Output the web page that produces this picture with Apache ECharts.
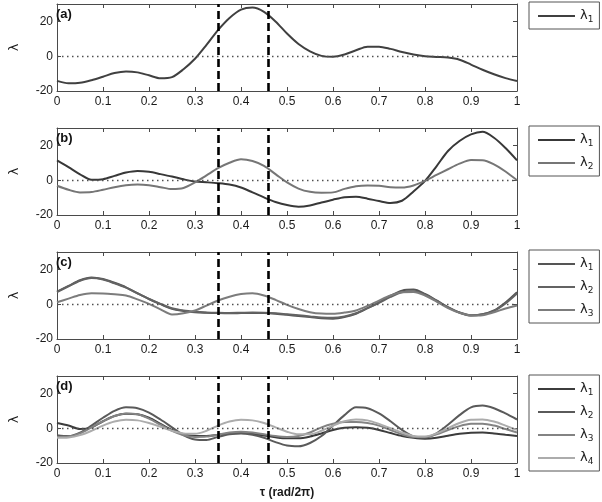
<!DOCTYPE html>
<html><head><meta charset="utf-8">
<script src="https://cdn.jsdelivr.net/npm/echarts@6/dist/echarts.min.js"></script>
<style>html,body{margin:0;padding:0;background:#fff}#c{width:602px;height:502px}</style>
</head><body><div id="c"></div>
<script>
// x positions (tau, rad/2pi)
const tau = [0,0.025,0.05,0.075,0.1,0.125,0.15,0.175,0.2,0.225,0.25,0.275,0.3,0.325,0.35,0.375,0.4,0.425,0.45,0.475,0.5,
             0.525,0.55,0.575,0.6,0.625,0.65,0.675,0.7,0.725,0.75,0.775,0.8,0.825,0.85,0.875,0.9,0.925,0.95,0.975,1];
const markTau = [0.35, 0.46];
const panelLabels = ['(a)','(b)','(c)','(d)'];
const yName = 'λ';
const xName = 'τ (rad/2π)';

// panel (a)
const a_l1 = [-14.2,-15.6,-15.3,-13.8,-11.8,-9.7,-8.8,-9.3,-11.0,-12.7,-12.0,-7.5,-1.5,6.5,15.0,22.0,26.8,28.0,25.5,20.0,13.0,
              7.0,2.8,0.2,-0.3,1.0,3.4,5.5,5.5,4.2,2.4,1.0,0.0,-0.4,-0.8,-2.0,-4.8,-7.8,-10.4,-12.6,-14.2];
// panel (b)
const b_l1 = [11.4,7.5,3.4,0.3,0.6,2.5,4.4,5.3,4.8,3.5,2.1,0.5,-0.8,-1.2,-1.7,-2.5,-4.2,-7.0,-9.9,-12.5,-14.3,
              -15.2,-14.5,-12.8,-11.2,-9.8,-9.5,-10.6,-12.0,-13.1,-11.8,-6.5,-0.4,8.0,16.8,22.5,26.3,27.8,24.4,18.5,11.4];
const b_l2 = [-3.2,-5.5,-7.0,-6.8,-5.5,-4.0,-2.9,-2.5,-2.9,-4.0,-5.1,-4.5,-1.3,2.8,6.9,10.0,12.0,11.0,8.2,3.5,-1.3,
              -4.8,-6.7,-7.2,-7.0,-5.0,-3.5,-3.0,-3.2,-4.0,-4.2,-3.0,-0.4,3.0,6.3,9.5,11.6,11.5,9.1,5.0,0.0];
// panel (c)
const c_l1 = [7.2,10.5,13.8,15.4,14.5,12.3,9.7,6.3,3.0,0.0,-2.7,-3.9,-4.6,-4.9,-5.1,-5.2,-5.1,-5.0,-5.1,-5.5,-6.1,
              -6.8,-7.4,-8.1,-8.3,-7.4,-5.5,-2.3,1.1,4.8,7.8,8.4,5.9,2.2,-1.7,-4.8,-6.5,-5.8,-3.6,1.0,6.9];
const c_l2 = [7.0,10.3,13.5,15.0,14.2,12.0,9.5,6.2,3.0,0.2,-2.3,-3.6,-4.3,-4.7,-4.9,-5.0,-4.9,-4.8,-4.9,-5.2,-5.8,
              -6.4,-7.0,-7.6,-7.8,-7.0,-5.2,-2.3,0.8,4.2,6.9,7.5,5.5,2.0,-1.8,-4.8,-6.3,-5.8,-3.8,0.5,6.2];
const c_l3 = [1.1,3.2,5.3,6.3,6.2,5.7,5.0,2.8,0.2,-3.0,-5.9,-5.2,-3.6,-0.8,2.1,4.3,5.8,6.3,5.0,2.5,-0.4,
              -2.8,-4.6,-5.4,-5.5,-4.8,-3.6,-1.0,2.1,5.0,6.9,7.0,5.0,1.5,-2.3,-5.0,-6.5,-6.3,-4.6,-2.5,-0.8];
// panel (d)
const d_l1 = [3.0,1.5,-0.5,0.5,4.0,7.0,8.3,8.0,6.0,2.5,-1.0,-3.5,-4.5,-4.5,-3.8,-3.0,-2.8,-3.2,-4.2,-5.2,-5.8,
              -5.8,-4.8,-3.0,-1.0,0.3,0.6,0.2,-1.0,-2.8,-4.5,-5.5,-6.0,-5.5,-4.3,-3.2,-2.6,-2.5,-3.0,-3.8,-4.5];
const d_l2 = [-4.0,-4.5,-2.5,1.5,6.0,10.0,12.0,11.5,9.0,5.0,0.5,-4.0,-6.5,-6.8,-5.0,-3.5,-3.0,-3.8,-5.5,-8.0,-10.0,
              -10.4,-8.5,-4.5,1.5,7.5,12.0,11.5,8.5,4.0,-1.0,-4.8,-5.5,-3.0,2.0,7.5,12.0,13.0,11.5,8.5,5.0];
const d_l3 = [-5.0,-4.8,-3.0,0.5,4.0,7.0,8.5,8.0,5.5,2.0,-1.5,-4.0,-5.0,-4.8,-3.8,-2.5,-2.0,-2.5,-3.5,-4.5,-5.0,
              -4.5,-2.5,0.5,2.5,3.5,3.6,3.0,1.5,-1.0,-3.5,-5.0,-5.0,-3.5,-1.0,1.2,2.5,2.6,1.5,-0.5,-2.5];
const d_l4 = [-5.5,-5.3,-4.0,-1.5,1.5,3.8,4.8,4.5,3.0,0.8,-1.5,-3.0,-3.2,-1.5,1.5,3.8,4.8,4.5,3.0,0.5,-2.0,
              -3.5,-3.5,-1.5,1.5,4.0,5.0,4.5,2.5,0.0,-2.5,-4.5,-4.8,-3.0,0.0,3.0,4.8,5.0,3.8,1.5,-1.0];

const panelsData = [[a_l1],[b_l1,b_l2],[c_l1,c_l2,c_l3],[d_l1,d_l2,d_l3,d_l4]];
const subLabels = [['1'],['1','2'],['1','2','3'],['1','2','3','4']];

// styles / layout
const colors = [['#404040'],['#383838','#767676'],['#555555','#636363','#7c7c7c'],['#3c3c3c','#5a5a5a','#838383','#acacac']];
const gridTops = [4,128,252,376];
const gridH = 87;
const legendTops = [2,126,250,375];
const FONT = 'Liberation Sans';

const grids=[], xAxes=[], yAxes=[], series=[], legends=[], titles=[];
const labelMap = {};
panelsData.forEach((lines, i) => {
  const top = gridTops[i];
  grids.push({left:49, width:468, top:top, height:gridH, show:false});
  const axisLine = {show:true, onZero:false, lineStyle:{color:'#4a4a4a', width:1}};
  const tick = {show:true, inside:true, length:4, lineStyle:{color:'#4a4a4a', width:1}};
  xAxes.push({gridIndex:i, type:'value', min:0, max:1, interval:0.1, position:'bottom',
    axisLine:axisLine, axisTick:tick, splitLine:{show:false},
    axisLabel:{margin:5, fontSize:12, color:'#1a1a1a', fontFamily:FONT, formatter:v => String(+(+v).toFixed(1))},
    name: i===3 ? xName : '', nameLocation:'middle', nameGap:24,
    nameTextStyle:{fontWeight:'bold', fontSize:12, color:'#1a1a1a', fontFamily:FONT}});
  xAxes.push({gridIndex:i, type:'value', min:0, max:1, interval:0.1, position:'top',
    axisLine:axisLine, axisTick:tick, splitLine:{show:false}, axisLabel:{show:false}});
  yAxes.push({gridIndex:i, type:'value', min:-20, max:30, interval:20, position:'left',
    axisLine:axisLine, axisTick:tick, splitLine:{show:false},
    axisLabel:{margin:4, fontSize:12, color:'#1a1a1a', fontFamily:FONT, showMaxLabel:false, showMinLabel:true,
      formatter:v => (v===30 ? '' : String(v))},
    name:yName, nameLocation:'middle', nameGap:36, nameRotate:90,
    nameTextStyle:{fontSize:13, color:'#1a1a1a', fontFamily:'DejaVu Sans'}});
  yAxes.push({gridIndex:i, type:'value', min:-20, max:30, interval:20, position:'right',
    axisLine:axisLine, axisTick:tick, splitLine:{show:false}, axisLabel:{show:false}});

  const names = [];
  lines.forEach((vals, j) => {
    const nm = 'p' + i + 's' + j;
    names.push(nm);
    labelMap[nm] = 'λ{s|' + subLabels[i][j] + '}';
    series.push({name:nm, type:'line', xAxisIndex:2*i, yAxisIndex:2*i, z:3,
      data: tau.map((t,k) => [t, vals[k]]), showSymbol:false, smooth:0.3,
      lineStyle:{width:2, color:colors[i][j]}, itemStyle:{color:colors[i][j]}});
  });
  // zero dotted line
  series.push({type:'line', xAxisIndex:2*i, yAxisIndex:2*i, data:[], silent:true, z:2,
    markLine:{symbol:'none', silent:true, animation:false, label:{show:false},
      data:[{yAxis:0, lineStyle:{type:[1.5,3.5], color:'#505050', width:1.3}}]}});
  // dashed vertical markers
  series.push({type:'line', xAxisIndex:2*i, yAxisIndex:2*i, data:[], silent:true, z:5,
    markLine:{symbol:'none', silent:true, animation:false, label:{show:false},
      data: markTau.map(t => ({xAxis:t, lineStyle:{type:[8,4], color:'#000', width:2.6}}))}});

  legends.push({data:names, orient:'vertical', left:529, top:legendTops[i], padding:[6,6,5,9],
    itemGap:7, itemWidth:37, itemHeight:2, icon:'rect', borderColor:'#555', borderWidth:1,
    backgroundColor:'#fff', selectedMode:false,
    formatter: n => labelMap[n],
    textStyle:{fontSize:13, color:'#222', fontFamily:'DejaVu Sans', lineHeight:14,
      rich:{s:{fontSize:9, color:'#222', fontFamily:'DejaVu Sans', lineHeight:14, padding:[7,0,0,0]}}}});
  titles.push({text:panelLabels[i], left:56, top:top+4, padding:0,
    textStyle:{fontSize:13, fontWeight:'bold', color:'#111', fontFamily:FONT}});
});

const chart = echarts.init(document.getElementById('c'), null, {renderer:'canvas'});
chart.setOption({
  animation:false,
  backgroundColor:'#fff',
  title:titles, grid:grids, xAxis:xAxes, yAxis:yAxes, legend:legends, series:series
});
</script>
</body></html>
